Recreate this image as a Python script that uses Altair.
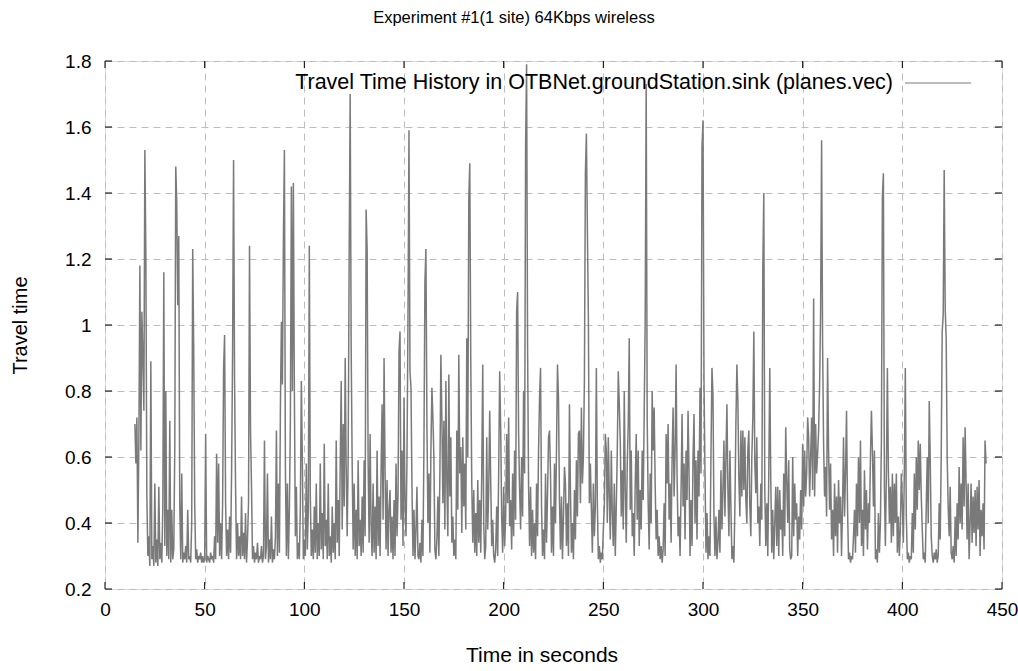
import altair as alt
import pandas as pd

# ---------------- text ----------------
title_text = "Experiment #1(1 site) 64Kbps wireless"
x_title = "Time in seconds"
y_title = "Travel time"
legend_label = "Travel Time History in OTBNet.groundStation.sink (planes.vec)"

# ---------------- axes ----------------
x_ticks = [0, 50, 100, 150, 200, 250, 300, 350, 400, 450]
y_ticks = [0.2, 0.4, 0.6, 0.8, 1.0, 1.2, 1.4, 1.6, 1.8]

time_start = 15.0
time_step = 0.5
travel_time = [
    # 15.0 - 24.5
    0.70, 0.58, 0.72, 0.34, 0.66, 1.18, 0.62, 1.04, 0.90, 0.74, 1.53, 1.21, 0.48, 0.30, 0.36, 0.27, 0.89, 0.29, 0.33, 0.27,
    # 25.0 - 34.5
    0.52, 0.28, 0.35, 0.27, 0.51, 0.29, 0.34, 0.28, 0.45, 1.16, 0.33, 0.80, 0.30, 0.44, 0.29, 0.71, 0.28, 0.44, 0.29, 0.32,
    # 35.0 - 44.5
    0.62, 1.48, 1.37, 1.06, 1.27, 0.46, 0.29, 0.55, 0.28, 0.31, 0.29, 0.33, 0.28, 0.44, 0.29, 0.30, 0.28, 0.40, 1.23, 0.93,
    # 45.0 - 54.5
    0.46, 0.29, 0.32, 0.28, 0.30, 0.29, 0.31, 0.28, 0.30, 0.28, 0.29, 0.67, 0.28, 0.30, 0.29, 0.28, 0.31, 0.29, 0.30, 0.28,
    # 55.0 - 64.5
    0.36, 0.29, 0.61, 0.34, 0.58, 0.30, 0.40, 0.29, 0.46, 0.87, 0.97, 0.46, 0.30, 0.38, 0.29, 0.42, 0.31, 0.55, 0.91, 1.50,
    # 65.0 - 74.5
    0.83, 0.51, 0.29, 0.40, 0.30, 0.36, 0.29, 0.48, 0.30, 0.37, 0.29, 0.43, 0.28, 0.35, 0.46, 1.24, 0.68, 0.51, 0.29, 0.33,
    # 75.0 - 84.5
    0.28, 0.31, 0.29, 0.34, 0.28, 0.30, 0.29, 0.33, 0.28, 0.30, 0.65, 0.29, 0.33, 0.55, 0.28, 0.35, 0.29, 0.42, 0.28, 0.32,
    # 85.0 - 94.5
    0.29, 0.36, 0.68, 0.30, 0.52, 0.31, 0.75, 1.01, 0.82, 1.26, 1.53, 0.57, 0.30, 0.52, 0.29, 0.44, 0.71, 1.42, 0.80, 1.43,
    # 95.0 - 104.5
    0.80, 0.36, 0.51, 0.29, 0.34, 0.29, 0.45, 0.83, 0.59, 0.29, 0.35, 0.30, 0.58, 0.32, 0.44, 1.24, 0.48, 0.30, 0.38, 0.29,
    # 105.0 - 114.5
    0.45, 0.31, 0.52, 0.29, 0.40, 0.30, 0.58, 0.32, 0.43, 0.29, 0.64, 0.33, 0.41, 0.29, 0.52, 0.30, 0.36, 0.28, 0.45, 0.31,
    # 115.0 - 124.5
    0.40, 0.29, 0.65, 0.34, 0.47, 0.30, 0.58, 0.83, 0.38, 0.70, 0.45, 0.90, 0.57, 0.36, 0.60, 1.22, 1.70, 0.93, 0.58, 0.32,
    # 125.0 - 134.5
    0.52, 0.30, 0.44, 0.29, 0.59, 0.33, 0.41, 0.30, 0.48, 0.31, 0.59, 0.36, 1.35, 1.23, 0.59, 0.34, 0.67, 0.39, 0.30, 0.52,
    # 135.0 - 144.5
    0.31, 0.45, 0.29, 0.62, 0.33, 0.48, 0.30, 0.56, 0.76, 0.41, 0.90, 0.56, 0.32, 0.53, 0.30, 0.44, 0.50, 0.31, 0.42, 0.29,
    # 145.0 - 154.5
    0.47, 0.30, 0.58, 0.36, 0.48, 0.92, 0.98, 0.41, 0.62, 0.33, 0.78, 0.45, 0.36, 0.60, 1.02, 1.59, 0.86, 0.81, 0.51, 0.30,
    # 155.0 - 164.5
    0.44, 0.29, 0.38, 0.51, 0.30, 0.29, 0.34, 0.28, 0.41, 0.30, 0.63, 1.13, 1.23, 0.70, 0.40, 0.55, 0.31, 0.62, 0.81, 0.72,
    # 165.0 - 174.5
    0.60, 0.32, 0.29, 0.35, 0.48, 0.30, 0.55, 0.91, 0.72, 0.46, 0.71, 0.38, 0.83, 0.52, 0.36, 0.85, 0.48, 0.66, 0.34, 0.42,
    # 175.0 - 184.5
    0.30, 0.35, 0.29, 0.68, 0.44, 0.91, 0.55, 0.63, 0.37, 0.66, 0.45, 0.58, 0.38, 0.96, 0.60, 1.38, 1.49, 0.89, 0.52, 0.34,
    # 185.0 - 194.5
    0.50, 0.31, 0.43, 0.30, 0.53, 0.34, 0.47, 0.31, 0.55, 0.88, 0.40, 0.29, 0.33, 0.66, 0.38, 0.50, 0.74, 0.53, 0.33, 0.41,
    # 195.0 - 204.5
    0.30, 0.28, 0.32, 0.45, 0.30, 0.56, 0.86, 0.69, 0.42, 0.31, 0.51, 0.33, 0.42, 0.67, 0.46, 0.72, 0.39, 0.47, 0.32, 0.55,
    # 205.0 - 214.5
    0.36, 0.62, 0.41, 1.04, 1.10, 0.67, 0.50, 0.38, 0.60, 0.42, 0.80, 0.55, 1.54, 1.79, 0.93, 0.51, 0.33, 0.51, 0.30, 0.44,
    # 215.0 - 224.5
    0.31, 0.40, 0.29, 0.52, 0.36, 0.62, 0.78, 0.87, 0.45, 0.30, 0.38, 0.29, 0.55, 0.34, 0.48, 0.66, 0.68, 0.55, 0.31, 0.45,
    # 225.0 - 234.5
    0.30, 0.58, 0.40, 0.62, 0.88, 0.78, 0.47, 0.32, 0.48, 0.29, 0.42, 0.57, 0.52, 0.33, 0.46, 0.30, 0.76, 0.50, 0.31, 0.40,
    # 235.0 - 244.5
    0.29, 0.50, 0.35, 0.59, 0.42, 0.67, 0.68, 0.46, 0.75, 0.52, 0.60, 0.83, 1.46, 1.58, 1.29, 1.02, 0.46, 0.58, 0.44, 0.31,
    # 245.0 - 254.5
    0.52, 0.36, 0.45, 0.87, 0.46, 0.29, 0.33, 0.28, 0.31, 0.29, 0.38, 0.45, 0.67, 0.62, 0.40, 0.66, 0.48, 0.35, 0.62, 0.43,
    # 255.0 - 264.5
    0.33, 0.52, 0.30, 0.45, 0.62, 0.86, 0.76, 0.65, 0.42, 0.56, 0.38, 0.80, 0.50, 0.34, 0.58, 0.70, 0.96, 0.44, 0.62, 0.36,
    # 265.0 - 274.5
    0.43, 0.30, 0.52, 0.67, 0.41, 0.62, 0.33, 0.50, 0.38, 0.62, 0.47, 0.73, 1.02, 1.73, 0.72, 0.46, 0.32, 0.55, 0.40, 0.80,
    # 275.0 - 284.5
    0.62, 0.75, 0.52, 0.35, 0.44, 0.30, 0.36, 0.29, 0.33, 0.28, 0.32, 0.46, 0.30, 0.67, 0.52, 0.70, 0.41, 0.52, 0.34, 0.60,
    # 285.0 - 294.5
    0.75, 0.48, 0.62, 0.88, 0.54, 0.36, 0.42, 0.30, 0.50, 0.73, 0.45, 0.58, 0.35, 0.62, 0.47, 0.74, 0.55, 0.30, 0.47, 0.33,
    # 295.0 - 304.5
    0.60, 0.73, 0.40, 0.59, 0.35, 0.62, 0.48, 0.81, 0.55, 1.54, 1.62, 0.83, 0.55, 0.31, 0.43, 0.29, 0.36, 0.30, 0.61, 0.87,
    # 305.0 - 314.5
    0.79, 0.42, 0.30, 0.42, 0.29, 0.34, 0.44, 0.31, 0.56, 0.38, 0.50, 0.65, 0.42, 0.60, 0.76, 0.50, 0.36, 0.62, 0.45, 0.29,
    # 315.0 - 324.5
    0.33, 0.28, 0.45, 0.70, 0.88, 0.77, 0.53, 0.42, 0.68, 0.48, 0.68, 0.50, 0.66, 0.47, 0.40, 0.62, 0.68, 0.45, 0.36, 0.60,
    # 325.0 - 334.5
    0.72, 0.98, 0.58, 0.49, 0.66, 0.40, 0.45, 0.33, 0.52, 0.41, 1.17, 1.40, 0.50, 0.33, 0.46, 0.30, 0.55, 0.87, 0.53, 0.31,
    # 335.0 - 344.5
    0.44, 0.29, 0.40, 0.51, 0.33, 0.51, 0.30, 0.50, 0.38, 0.44, 0.30, 0.55, 0.36, 0.69, 0.53, 0.40, 0.59, 0.32, 0.29, 0.30,
    # 345.0 - 354.5
    0.60, 0.36, 0.52, 0.41, 0.46, 0.30, 0.42, 0.35, 0.50, 0.38, 0.64, 0.45, 0.62, 0.48, 0.55, 0.72, 0.66, 0.48, 0.60, 0.72,
    # 355.0 - 364.5
    0.50, 1.08, 0.48, 0.70, 0.55, 0.61, 0.68, 0.82, 1.04, 1.56, 0.94, 0.64, 0.48, 0.57, 0.42, 0.90, 0.62, 0.44, 0.58, 0.35,
    # 365.0 - 374.5
    0.44, 0.30, 0.52, 0.36, 0.48, 0.31, 0.53, 0.40, 0.48, 0.30, 0.45, 0.66, 0.42, 0.55, 0.74, 0.45, 0.29, 0.31, 0.28, 0.30,
    # 375.0 - 384.5
    0.29, 0.36, 0.44, 0.31, 0.52, 0.36, 0.60, 0.40, 0.65, 0.33, 0.44, 0.30, 0.56, 0.38, 0.50, 0.32, 0.46, 0.40, 0.60, 0.74,
    # 385.0 - 394.5
    0.62, 0.45, 0.62, 0.29, 0.32, 0.28, 0.43, 0.31, 0.40, 0.65, 1.39, 1.46, 0.51, 0.33, 0.55, 0.87, 0.56, 0.40, 0.51, 0.34,
    # 395.0 - 404.5
    0.55, 0.36, 0.52, 0.40, 0.55, 0.31, 0.42, 0.30, 0.38, 0.55, 0.46, 0.34, 0.55, 0.87, 0.42, 0.29, 0.31, 0.28, 0.30, 0.29,
    # 405.0 - 414.5
    0.43, 0.31, 0.55, 0.38, 0.60, 0.44, 0.65, 0.50, 0.64, 0.48, 0.38, 0.29, 0.31, 0.28, 0.45, 0.60, 0.40, 0.77, 0.59, 0.36,
    # 415.0 - 424.5
    0.30, 0.28, 0.31, 0.29, 0.32, 0.28, 0.30, 0.46, 0.35, 0.60, 0.98, 1.03, 1.47, 1.05, 0.96, 0.60, 0.45, 0.36, 0.51, 0.31,
    # 425.0 - 434.5
    0.29, 0.33, 0.28, 0.42, 0.30, 0.46, 0.35, 0.57, 0.40, 0.52, 0.38, 0.66, 0.45, 0.69, 0.52, 0.35, 0.52, 0.29, 0.40, 0.52,
    # 435.0 - 442.0
    0.34, 0.48, 0.37, 0.50, 0.33, 0.51, 0.38, 0.53, 0.30, 0.44, 0.36, 0.46, 0.32, 0.65, 0.58,
]

# ---------------- layout / style ----------------
W, H = 897, 528
X_DOMAIN = [x_ticks[0], x_ticks[-1]]
Y_DOMAIN = [y_ticks[0], y_ticks[-1]]
TICK_PX = 7
FONT = "Liberation Sans, Arial, sans-serif"
LINE_COLOR = "#7a7a7a"
GRID_COLOR = "#bdbdbd"

df = pd.DataFrame({
    "t": [time_start + time_step * i for i in range(len(travel_time))],
    "v": travel_time,
})

x_scale = alt.Scale(domain=X_DOMAIN, nice=False, zero=False)
y_scale = alt.Scale(domain=Y_DOMAIN, nice=False, zero=False)

x_axis = alt.Axis(
    values=x_ticks, format="d", title=x_title, grid=True, gridDash=[7, 5],
    gridColor=GRID_COLOR, gridWidth=1, ticks=False, domain=False,
    labelFont=FONT, labelFontSize=19, labelColor="black", labelPadding=11,
    labelFlush=False, titleFont=FONT, titleFontSize=21, titleFontWeight="normal",
    titleColor="black", titleX=W / 2 - 12, titleY=66, titleBaseline="middle",
)
y_axis = alt.Axis(
    values=y_ticks, format="~g", title=y_title, grid=True, gridDash=[7, 5],
    gridColor=GRID_COLOR, gridWidth=1, ticks=False, domain=False,
    labelFont=FONT, labelFontSize=19, labelColor="black", labelPadding=14,
    labelFlush=False, titleFont=FONT, titleFontSize=20, titleFontWeight="normal",
    titleColor="black", titleX=-85, titleY=H / 2, titleAngle=-90,
    titleAlign="center", titleBaseline="middle",
)

line = alt.Chart(df).mark_line(color=LINE_COLOR, strokeWidth=1.5, clip=True).encode(
    x=alt.X("t:Q", scale=x_scale, axis=x_axis),
    y=alt.Y("v:Q", scale=y_scale, axis=y_axis),
)

# inward tick marks on all four sides (gnuplot style)
dy = (Y_DOMAIN[1] - Y_DOMAIN[0]) / H * TICK_PX
dx = (X_DOMAIN[1] - X_DOMAIN[0]) / W * TICK_PX
xt = pd.DataFrame(
    [{"x": t, "y": Y_DOMAIN[0], "y2": Y_DOMAIN[0] + dy} for t in x_ticks]
    + [{"x": t, "y": Y_DOMAIN[1], "y2": Y_DOMAIN[1] - dy} for t in x_ticks]
)
yt = pd.DataFrame(
    [{"y": v, "x": X_DOMAIN[0], "x2": X_DOMAIN[0] + dx} for v in y_ticks]
    + [{"y": v, "x": X_DOMAIN[1], "x2": X_DOMAIN[1] - dx} for v in y_ticks]
)
x_tick_rules = alt.Chart(xt).mark_rule(color="black", strokeWidth=1).encode(
    x=alt.X("x:Q", scale=x_scale), y=alt.Y("y:Q", scale=y_scale), y2="y2:Q"
)
y_tick_rules = alt.Chart(yt).mark_rule(color="black", strokeWidth=1).encode(
    y=alt.Y("y:Q", scale=y_scale), x=alt.X("x:Q", scale=x_scale), x2="x2:Q"
)

# key (inside, top right)
key_df = pd.DataFrame({"label": [legend_label]})
key_text = alt.Chart(key_df).mark_text(
    align="right", baseline="middle", font=FONT, fontSize=21.5, color="black"
).encode(text="label:N", x=alt.value(788), y=alt.value(22))
key_line = alt.Chart(key_df).mark_rule(color=LINE_COLOR, strokeWidth=1).encode(
    x=alt.value(800), x2=alt.value(866), y=alt.value(22)
)

chart = alt.layer(line, x_tick_rules, y_tick_rules, key_line, key_text).properties(
    width=W, height=H,
    title=alt.TitleParams(
        text=title_text, font=FONT, fontSize=16.5, fontWeight="normal",
        color="black", anchor="middle", frame="bounds", offset=26,
    ),
    autosize=alt.AutoSizeParams(type="none"),
    padding={"left": 105, "top": 61, "right": 16, "bottom": 82},
).configure_view(
    stroke="black", strokeWidth=1
).configure(background="white")

chart.save("out.html", embed_options={"renderer": "svg", "actions": False})
